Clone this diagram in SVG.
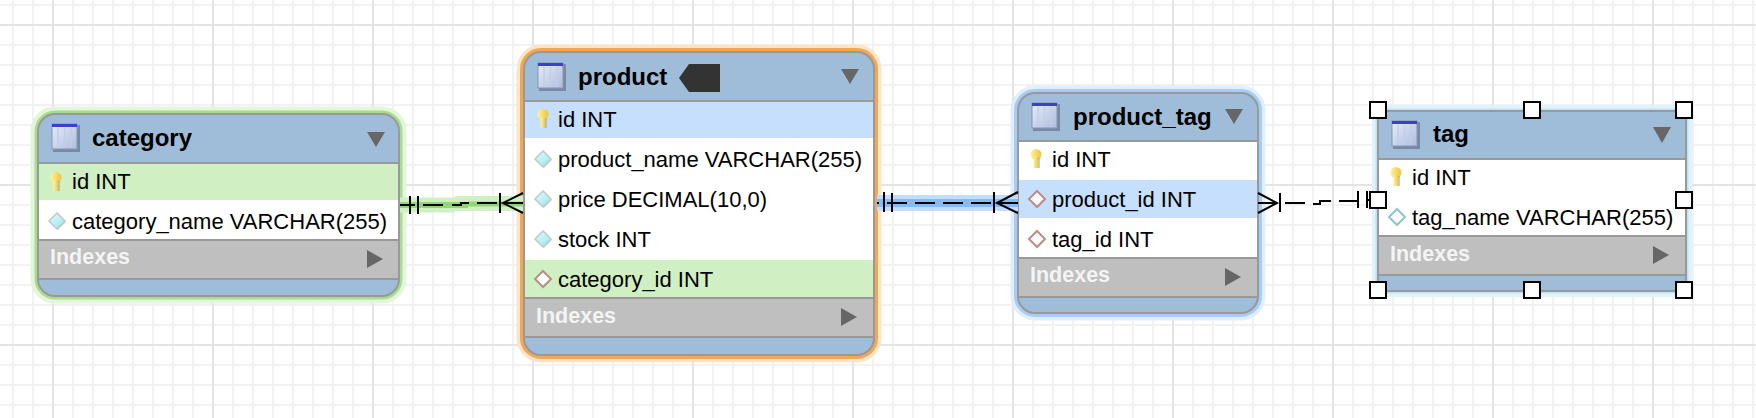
<svg xmlns="http://www.w3.org/2000/svg" width="1756" height="418" viewBox="0 0 1756 418">
<style>
text{font-family:"Liberation Sans",Arial,sans-serif;fill:#000}
.t{font-size:24px;font-weight:700}
.r{font-size:22px}
.ix{font-size:21.500px;font-weight:700;fill:#f4f4f4}
.hd{fill:#9fbdd8}
.tri{fill:#666}
.ln{stroke:#000;stroke-width:2;fill:none}
.gm{stroke:#f2f2f2;stroke-width:2}
.gM{stroke:#e4e4e4;stroke-width:2}
.b{fill:none;stroke:#999;stroke-width:2}
.div{stroke:#999;stroke-width:2}
.h{fill:#fff;stroke:#000;stroke-width:2}
</style>
<defs>
<linearGradient id="ig" x1="0" y1="0" x2="1" y2="1"><stop offset="0" stop-color="#e6ecf8"/><stop offset="1" stop-color="#aebde0"/></linearGradient>
<linearGradient id="kg" x1="0" y1="0" x2="1" y2="0"><stop offset="0" stop-color="#fff2a0"/><stop offset="1" stop-color="#eec53c"/></linearGradient>
<linearGradient id="dg" x1="0" y1="0" x2="1" y2="1"><stop offset="0" stop-color="#e8fdfd"/><stop offset="1" stop-color="#8fe6ea"/></linearGradient>
<g id="tbl">
<rect x="1" y="1" width="27" height="27" fill="#56607a" opacity=".55"/>
<rect x="0" y="0" width="25" height="25" fill="url(#ig)" stroke="#8794b4"/>
<rect x="0" y="0" width="25" height="3" fill="#3a3fd0"/>
<path d="M6 4v20M12.500 4v20M19 4v20" stroke="#c3cde6" stroke-width="1.500"/>
</g>
<g id="key">
<ellipse cx="6" cy="5.500" rx="5.500" ry="5.500" fill="url(#kg)"/>
<rect x="3.500" y="8" width="5" height="11" fill="url(#kg)"/>
<path d="M9 9v10" stroke="#9a9a9a" stroke-width="1.500" opacity=".6"/>
</g>
<g id="dc"><path d="M1-8 9 1 1 9-7 1Z" fill="#aaa" opacity=".5"/><path d="M0-8 8 0 0 8-8 0Z" fill="url(#dg)" stroke="#c2c8c8" stroke-width="1.500"/></g>
<g id="df"><path d="M1-7.500 8.500 1 1 8.500-6.500 1Z" fill="#aaa" opacity=".4"/><path d="M0-8 8 0 0 8-8 0Z" fill="#fff" stroke="#b98d88" stroke-width="2"/></g>
<g id="de"><path d="M0-8 8 0 0 8-8 0Z" fill="#fff" stroke="#8fc4c8" stroke-width="2"/></g>
</defs>
<rect width="1756" height="418" fill="#fff"/>
<g id="grid">
<path class="gm" d="M13 0V418M33 0V418M73 0V418M93 0V418M113 0V418M133 0V418M153 0V418M173 0V418M193 0V418M233 0V418M253 0V418M273 0V418M293 0V418M313 0V418M333 0V418M353 0V418M393 0V418M413 0V418M433 0V418M453 0V418M473 0V418M493 0V418M513 0V418M553 0V418M573 0V418M593 0V418M613 0V418M633 0V418M653 0V418M673 0V418M713 0V418M733 0V418M753 0V418M773 0V418M793 0V418M813 0V418M833 0V418M873 0V418M893 0V418M913 0V418M933 0V418M953 0V418M973 0V418M993 0V418M1033 0V418M1053 0V418M1073 0V418M1093 0V418M1113 0V418M1133 0V418M1153 0V418M1193 0V418M1213 0V418M1233 0V418M1253 0V418M1273 0V418M1293 0V418M1313 0V418M1353 0V418M1373 0V418M1393 0V418M1413 0V418M1433 0V418M1453 0V418M1473 0V418M1513 0V418M1533 0V418M1553 0V418M1573 0V418M1593 0V418M1613 0V418M1633 0V418M1673 0V418M1693 0V418M1713 0V418M1733 0V418M1753 0V418M0 5H1756M0 45H1756M0 65H1756M0 85H1756M0 105H1756M0 125H1756M0 145H1756M0 165H1756M0 205H1756M0 225H1756M0 245H1756M0 265H1756M0 285H1756M0 305H1756M0 325H1756M0 365H1756M0 385H1756M0 405H1756"/>
<path class="gM" d="M53 0V418M213 0V418M373 0V418M533 0V418M693 0V418M853 0V418M1013 0V418M1173 0V418M1333 0V418M1493 0V418M1653 0V418M0 25H1756M0 185H1756M0 345H1756"/>
</g>
<g id="category">
<rect x="38" y="114" width="361" height="182" rx="17" fill="none" stroke="#e3f5da" stroke-width="15"/>
<rect x="38" y="114" width="361" height="182" rx="17" fill="none" stroke="#a9dc8f" stroke-width="7"/>
<rect x="38" y="114" width="361" height="182" rx="17" class="hd"/>
<rect x="39" y="163" width="359" height="37" fill="#d0efc3"/>
<rect x="39" y="200" width="359" height="40" fill="#fff"/>
<rect x="39" y="240" width="359" height="39" fill="#bfbfbf"/>
<path class="div" d="M38 163H399M38 240H399M38 279H399"/>
<rect x="38" y="114" width="361" height="182" rx="17" class="b"/>
<use href="#tbl" x="52" y="124"/>
<text class="t" x="92" y="146">category</text>
<path class="tri" d="M367 132H385L376 147Z"/>
<use href="#key" x="50" y="172"/>
<text class="r" x="72" y="189">id INT</text>
<use href="#dc" x="57" y="221"/>
<text class="r" x="72" y="229">category_name VARCHAR(255)</text>
<text class="ix" x="50" y="264">Indexes</text>
<path class="tri" d="M367 250 383 259 367 268Z"/>
</g>
<g id="product">
<rect x="524" y="52" width="350" height="303" rx="17" fill="none" stroke="#fbe4c8" stroke-width="15"/>
<rect x="524" y="52" width="350" height="303" rx="17" fill="none" stroke="#f2a850" stroke-width="8"/>
<rect x="524" y="52" width="350" height="303" rx="17" class="hd"/>
<rect x="525" y="102" width="348" height="36" fill="#c6dffc"/>
<rect x="525" y="138" width="348" height="122" fill="#fff"/>
<rect x="525" y="260" width="348" height="38" fill="#d0efc3"/>
<rect x="525" y="298" width="348" height="39" fill="#bfbfbf"/>
<path class="div" d="M524 101H874M524 298H874M524 337H874"/>
<rect x="524" y="52" width="350" height="303" rx="17" class="b"/>
<use href="#tbl" x="538" y="63"/>
<text class="t" x="578" y="85">product</text>
<path d="M679 78 689 64H720V92H689Z" fill="#333"/>
<path class="tri" d="M841 69H859L850 84Z"/>
<use href="#key" x="537" y="109"/>
<text class="r" x="558" y="127">id INT</text>
<use href="#dc" x="543" y="159"/>
<text class="r" x="558" y="167">product_name VARCHAR(255)</text>
<use href="#dc" x="543" y="199"/>
<text class="r" x="558" y="207">price DECIMAL(10,0)</text>
<use href="#dc" x="543" y="239"/>
<text class="r" x="558" y="247">stock INT</text>
<use href="#df" x="543" y="279"/>
<text class="r" x="558" y="287">category_id INT</text>
<text class="ix" x="536" y="323">Indexes</text>
<path class="tri" d="M841 308 857 317 841 326Z"/>
</g>
<g id="product_tag">
<rect x="1018" y="93" width="240" height="220" rx="17" fill="none" stroke="#e1eefc" stroke-width="15"/>
<rect x="1018" y="93" width="240" height="220" rx="17" fill="none" stroke="#a5cdf8" stroke-width="8"/>
<rect x="1018" y="93" width="240" height="220" rx="17" class="hd"/>
<rect x="1019" y="141" width="238" height="39" fill="#fff"/>
<rect x="1019" y="180" width="238" height="38" fill="#c6dffc"/>
<rect x="1019" y="218" width="238" height="40" fill="#fff"/>
<rect x="1019" y="258" width="238" height="39" fill="#bfbfbf"/>
<path class="div" d="M1018 141H1258M1018 258H1258M1018 297H1258"/>
<rect x="1018" y="93" width="240" height="220" rx="17" class="b"/>
<use href="#tbl" x="1032" y="103"/>
<text class="t" x="1073" y="125">product_tag</text>
<path class="tri" d="M1225 109H1243L1234 124Z"/>
<use href="#key" x="1030" y="149"/>
<text class="r" x="1052" y="167">id INT</text>
<use href="#df" x="1037" y="199"/>
<text class="r" x="1052" y="207">product_id INT</text>
<use href="#df" x="1037" y="239"/>
<text class="r" x="1052" y="247">tag_id INT</text>
<text class="ix" x="1030" y="282">Indexes</text>
<path class="tri" d="M1225 268 1241 277 1225 286Z"/>
</g>
<g id="tag">
<rect x="1378" y="111" width="308" height="180" rx="10" fill="none" stroke="#e0f2fb" stroke-width="12"/>
<rect x="1378" y="111" width="308" height="180" rx="10" fill="none" stroke="#bce3f6" stroke-width="5"/>
<rect x="1378" y="111" width="308" height="180" rx="10" class="hd"/>
<rect x="1379" y="159" width="306" height="77" fill="#fff"/>
<rect x="1379" y="236" width="306" height="39" fill="#bfbfbf"/>
<path class="div" d="M1378 159H1686M1378 236H1686M1378 275H1686"/>
<rect x="1378" y="111" width="308" height="180" rx="10" class="b"/>
<use href="#tbl" x="1392" y="121"/>
<text class="t" x="1433" y="142">tag</text>
<path class="tri" d="M1653 127H1671L1662 143Z"/>
<use href="#key" x="1390" y="167"/>
<text class="r" x="1412" y="185">id INT</text>
<use href="#de" x="1397" y="217"/>
<text class="r" x="1412" y="225">tag_name VARCHAR(255)</text>
<text class="ix" x="1390" y="261">Indexes</text>
<path class="tri" d="M1653 246 1669 255 1653 264Z"/>
</g>
<g id="connectors">
<g id="conn-category-product">
<path d="M400 205H455M455 203.500H523" stroke="#d0efc3" stroke-width="15" fill="none"/>
<path d="M400 205H468" stroke="#8fd675" stroke-width="6" fill="none"/>
<path d="M468 204H523" stroke="#8fd675" stroke-width="5" fill="none"/>
<path class="ln" d="M400 205H415M410 196V214M418 196V214M423 205H443M452 205H461V203H469M477 203H497M500 193V213M523 193 503 203 523 213M503 203H523"/>
</g>
<g id="conn-product-tag">
<path d="M877 203H1018" stroke="#c3dcfb" stroke-width="16" fill="none"/>
<path d="M877 203H1018" stroke="#86bbf8" stroke-width="8" fill="none"/>
<path class="ln" d="M877 203H879M884 192V212M892 193V212M887 203H907M915 203H935M943 203H963M971 203H991M994 192V213M1018 192 997 203 1018 213M997 203H1018"/>
</g>
<g id="conn-tag-link">
<path class="ln" d="M1258 193 1277 203 1258 213M1258 203H1277M1280 193V212M1285 203H1305M1313 204H1320V201H1331M1339 201H1358M1358 191V208M1367 191V208M1367 200H1370"/>
</g>
</g>
<g id="handles">
<rect class="h" x="1370" y="102" width="16" height="16"/>
<rect class="h" x="1524" y="102" width="16" height="16"/>
<rect class="h" x="1676" y="102" width="16" height="16"/>
<rect class="h" x="1370" y="192" width="16" height="16"/>
<rect class="h" x="1676" y="192" width="16" height="16"/>
<rect class="h" x="1370" y="282" width="16" height="16"/>
<rect class="h" x="1524" y="282" width="16" height="16"/>
<rect class="h" x="1676" y="282" width="16" height="16"/>
</g>
</svg>
